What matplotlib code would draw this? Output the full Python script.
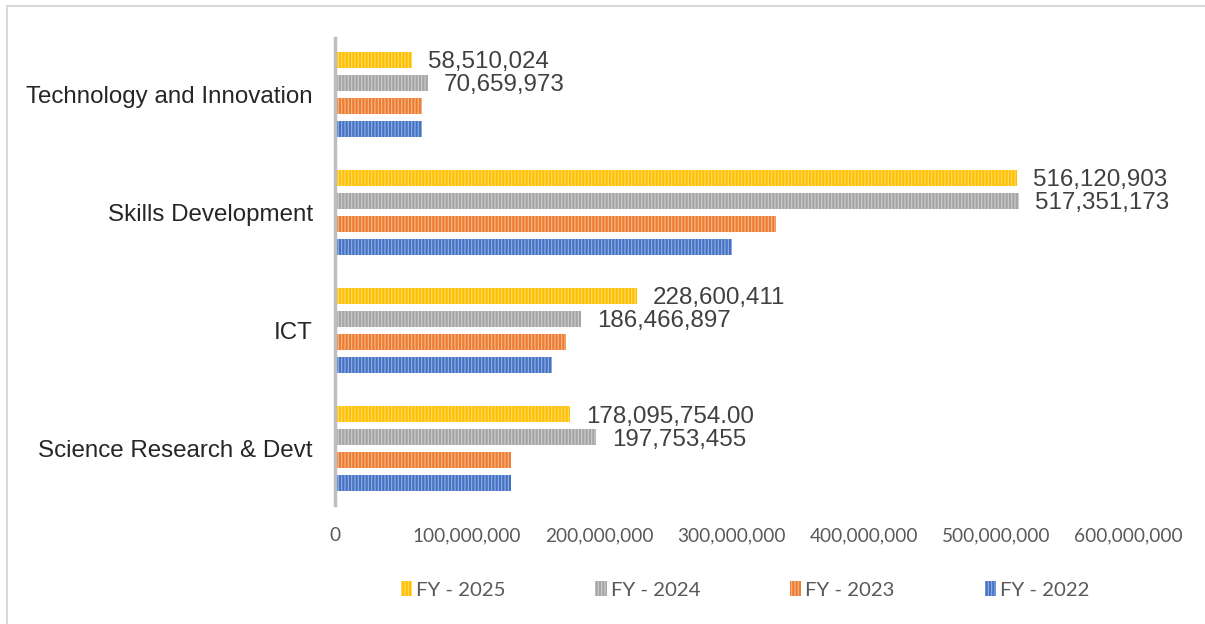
import numpy as np
import matplotlib.pyplot as plt
from matplotlib.colors import to_rgb
from matplotlib.lines import Line2D

categories = ['Science Research & Devt', 'ICT', 'Skills Development', 'Technology and Innovation']
series = ['FY - 2025', 'FY - 2024', 'FY - 2023', 'FY - 2022']
fy2025 = [178095754, 228600411, 516120903, 58510024]
fy2024 = [197753455, 186466897, 517351173, 70659973]
fy2023 = [133000000, 175000000, 334000000, 66000000]
fy2022 = [133000000, 164500000, 300000000, 66000000]
labels2025 = ['178,095,754.00', '228,600,411', '516,120,903', '58,510,024']
labels2024 = ['197,753,455', '186,466,897', '517,351,173', '70,659,973']
colors = ['#FFC000', '#A5A5A5', '#ED7D31', '#4472C4']

plt.rcParams['hatch.linewidth'] = 0.8


def lighter(c, f=0.45):
    r, g, b = to_rgb(c)
    return (r + (1 - r) * f, g + (1 - g) * f, b + (1 - b) * f)


fig = plt.figure(figsize=(12.05, 6.24), dpi=100)
ax = fig.add_axes([335 / 1205, 1 - 505 / 624, (1128 - 335) / 1205, (505 - 38) / 624])

y = np.arange(len(categories))
step = 0.195
height = 0.136
offsets = [1.5 * step, 0.5 * step, -0.5 * step, -1.5 * step]
values = [fy2025, fy2024, fy2023, fy2022]

for vals, off, col in zip(values, offsets, colors):
    ax.barh(y + off, vals, height=height, color=col, edgecolor=lighter(col),
            hatch='|||||', linewidth=0)

# only the two latest years carry data labels
for vals, labs, off in [(fy2025, labels2025, offsets[0]), (fy2024, labels2024, offsets[1])]:
    for yi, v, lab in zip(y, vals, labs):
        ax.text(v + 12e6, yi + off - 0.02, lab, va='center', ha='left', fontsize=17.4,
                family='Liberation Sans', color='#404040')

ax.set_xlim(0, 600e6)
ax.set_ylim(-0.475, 3.475)
ax.set_yticks(y)
ax.set_yticklabels(categories, fontsize=17.4, family='Liberation Sans', color='#262626')
ax.set_xticks(np.arange(0, 700e6, 100e6))
ax.set_xticklabels(['0'] + ['{:,}'.format(int(v)) for v in np.arange(100e6, 700e6, 100e6)],
                   fontsize=13.7, family='Lato', color='#595959')
ax.tick_params(axis='y', length=0, pad=16)
ax.tick_params(axis='x', length=0, pad=16)
for s in ['top', 'right', 'bottom']:
    ax.spines[s].set_visible(False)
ax.spines['left'].set_color('#BFBFBF')
ax.spines['left'].set_linewidth(2.5)

handles = [plt.Rectangle((0, 0), 1, 1, facecolor=c, edgecolor=lighter(c), hatch='|||||', linewidth=0)
           for c in colors]
fig.legend(handles, series, loc='center', bbox_to_anchor=(745 / 1205, 1 - 590 / 624), ncol=4,
           frameon=False, handlelength=0.55, handleheight=0.75, handletextpad=0.2, columnspacing=4.4,
           prop={'family': 'Lato', 'size': 14.7}, labelcolor='#595959')

fig.add_artist(Line2D([7 / 1205, 1], [1 - 6 / 624, 1 - 6 / 624], color='#D9D9D9', lw=1.5))
fig.add_artist(Line2D([7 / 1205, 7 / 1205], [0, 1 - 6 / 624], color='#D9D9D9', lw=1.5))

fig.savefig('out.png', dpi=100)
